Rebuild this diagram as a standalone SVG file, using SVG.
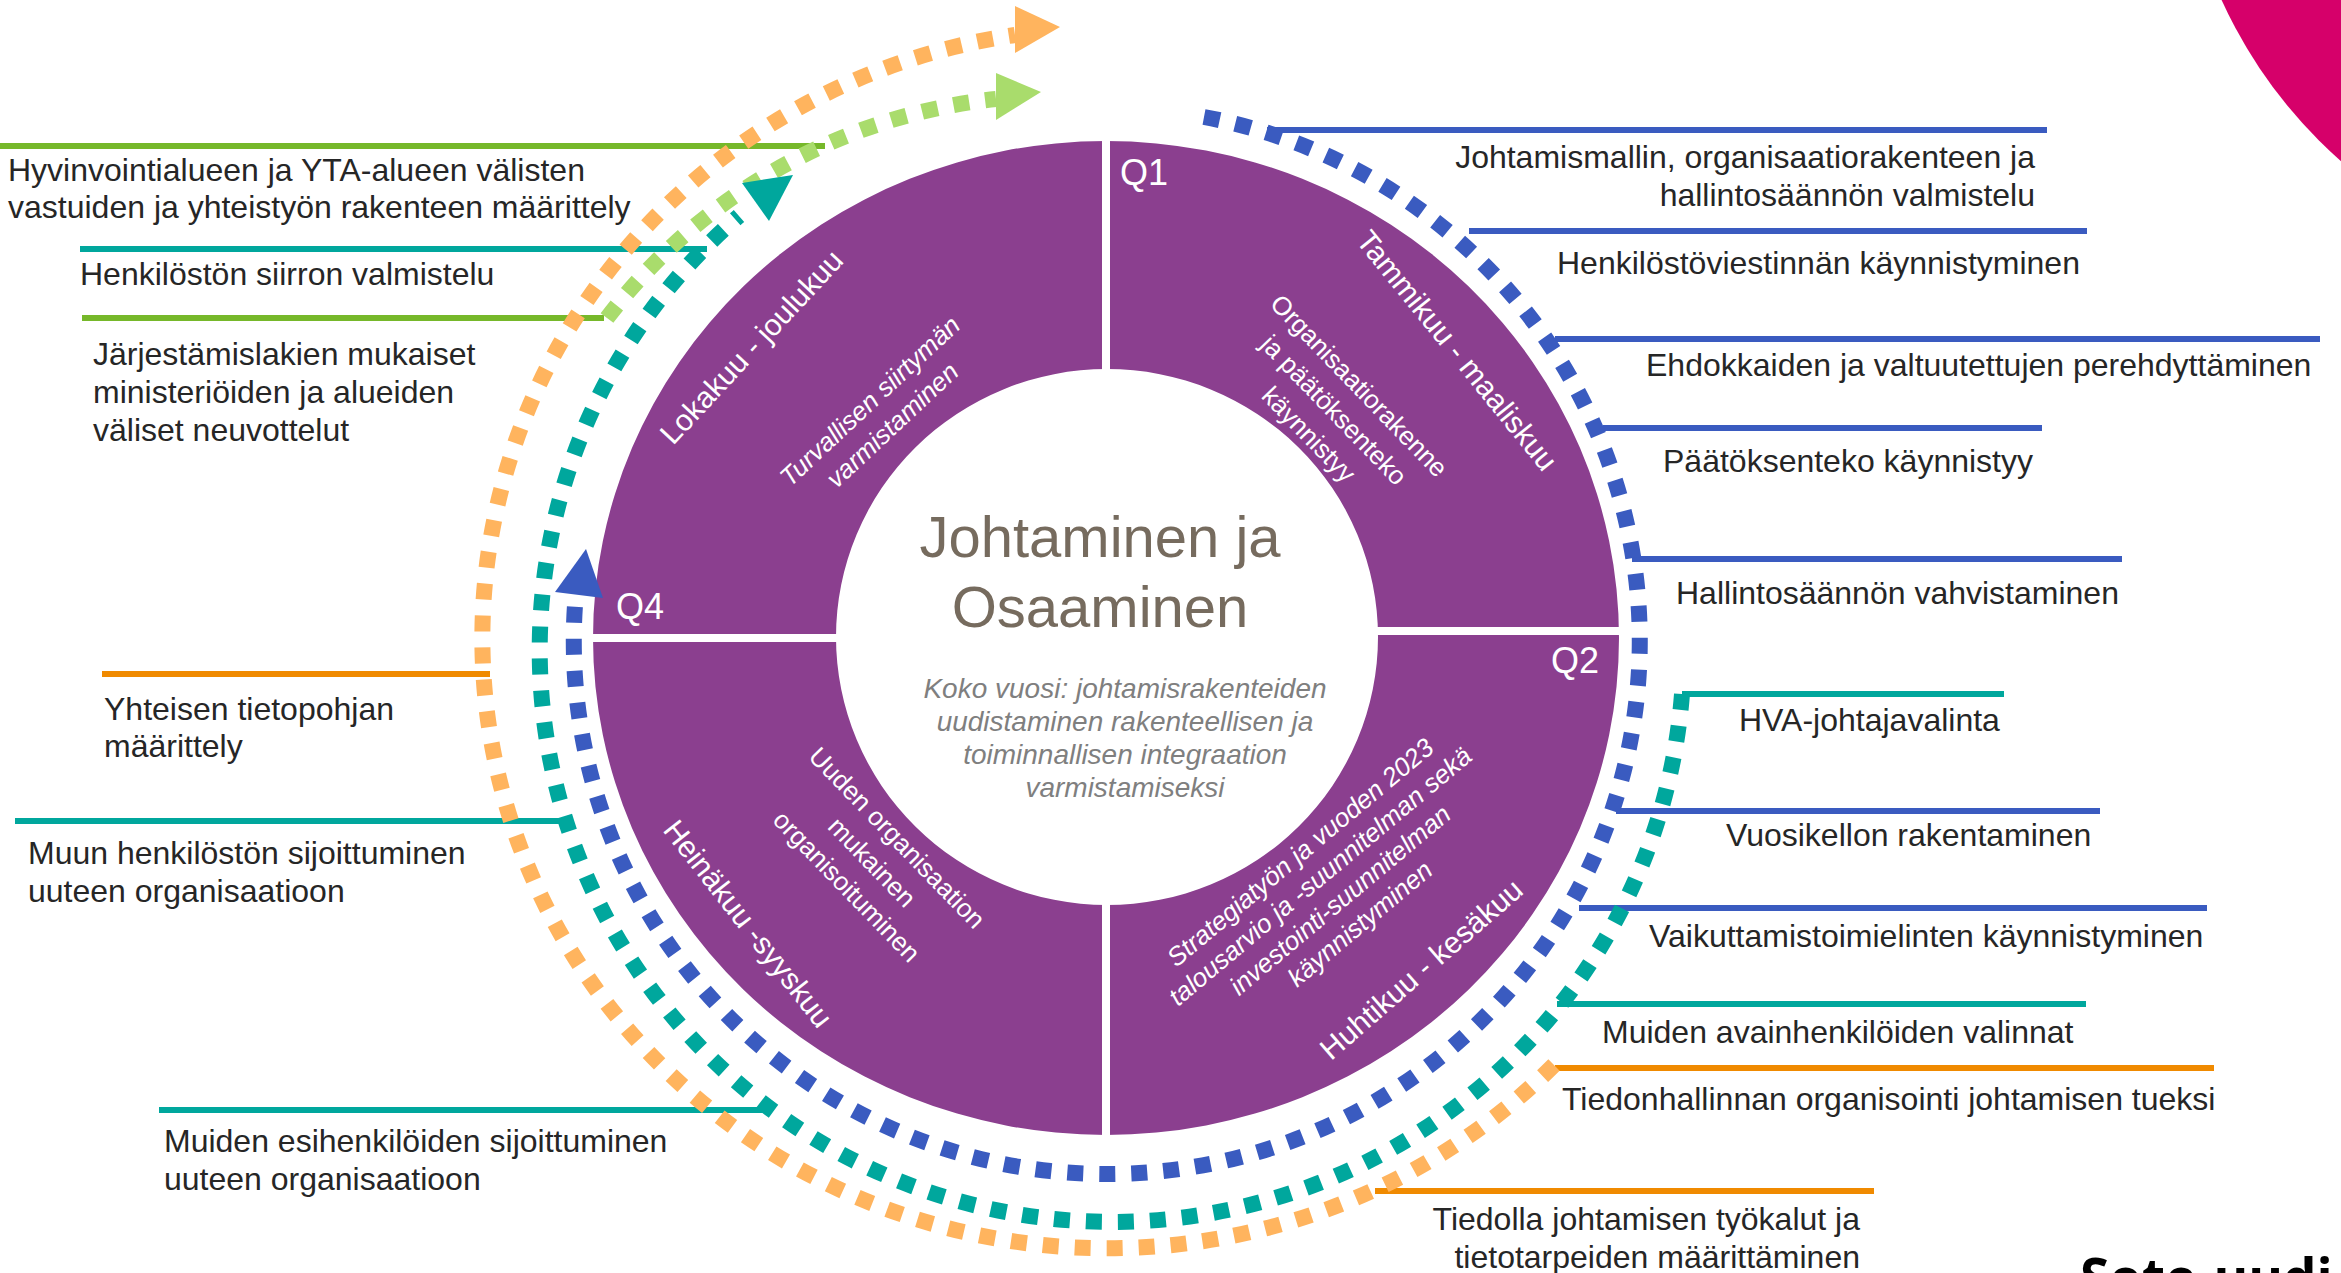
<svg xmlns="http://www.w3.org/2000/svg" width="2341" height="1273" viewBox="0 0 2341 1273">
<style>
.lbl{font-family:"Liberation Sans",Arial,sans-serif;font-size:32px;fill:#262626}
.r{text-anchor:end}
.q{font-family:"Liberation Sans",Arial,sans-serif;font-size:36px;fill:#fff}
.mon{font-family:"Liberation Sans",Arial,sans-serif;font-size:30px;fill:#fff;text-anchor:middle}
.inn{font-family:"Liberation Sans",Arial,sans-serif;font-size:26px;fill:#fff;text-anchor:middle}
.it{font-style:italic}
.ttl{font-family:"Liberation Sans",Arial,sans-serif;font-size:58px;fill:#766B5E;text-anchor:middle}
.sub{font-family:"Liberation Sans",Arial,sans-serif;font-size:28px;fill:#7F7F7F;font-style:italic;text-anchor:middle}
.ln{fill:none;stroke-width:6}
.dash{fill:none;stroke-width:16;stroke-dasharray:16 16}
.g{stroke:#76B82A}.t{stroke:#00A79D}.b{stroke:#3A5BC0}.o{stroke:#F08A00}
.lo{stroke:#FFB45E}.lg{stroke:#A9DC6C}
</style>
<rect width="2341" height="1273" fill="#fff"/>
<g id="deco">
<circle cx="2656" cy="-197" r="477" fill="#D6006A"/>
<text x="2080" y="1297" font-family="'Open Sans','Liberation Sans',sans-serif" font-weight="700" font-size="53" fill="#000">Sote-uudi</text>
</g>
<g id="ring">
<path d="M593,638 A513,497 0 1 0 1619,638 A513,497 0 1 0 593,638 Z M836,637 A271,268 0 1 0 1378,637 A271,268 0 1 0 836,637 Z" fill="#8B3F8F" fill-rule="evenodd"/>
<rect x="1102" y="130" width="8" height="1020" fill="#fff"/>
<rect x="588" y="634" width="258" height="8" fill="#fff"/>
<rect x="1370" y="627" width="256" height="8" fill="#fff"/>
</g>
<g id="connectors">
<line class="ln g" x1="0" y1="146" x2="825" y2="146"/>
<line class="ln t" x1="80" y1="249" x2="707" y2="249"/>
<line class="ln g" x1="82" y1="318" x2="604" y2="318"/>
<line class="ln o" x1="102" y1="674" x2="490" y2="674"/>
<line class="ln t" x1="15" y1="821" x2="567" y2="821"/>
<line class="ln t" x1="159" y1="1110" x2="769" y2="1110"/>
<line class="ln b" x1="1267" y1="130" x2="2047" y2="130"/>
<line class="ln b" x1="1469" y1="231" x2="2087" y2="231"/>
<line class="ln b" x1="1555" y1="339" x2="2320" y2="339"/>
<line class="ln b" x1="1603" y1="428" x2="2042" y2="428"/>
<line class="ln b" x1="1632" y1="559" x2="2122" y2="559"/>
<line class="ln t" x1="1682" y1="694" x2="2004" y2="694"/>
<line class="ln b" x1="1616" y1="811" x2="2100" y2="811"/>
<line class="ln b" x1="1579" y1="908" x2="2207" y2="908"/>
<line class="ln t" x1="1557" y1="1004" x2="2086" y2="1004"/>
<line class="ln o" x1="1555" y1="1068" x2="2214" y2="1068"/>
<line class="ln o" x1="1375" y1="1191" x2="1874" y2="1191"/>
<path class="dash lo" d="M1554,1065 A625,610 0 1 1 1015,35"/>
<polygon points="1015,6 1015,53 1060,27" fill="#FFB45E"/>
<path class="dash lg" d="M607,318 A562,562 0 0 1 996,99"/>
<polygon points="996,73 996,120 1041,92" fill="#A9DC6C"/>
<path class="dash t" d="M1682,694 A572,572 0 1 1 739,216"/>
<polygon points="742,183 793,175 769,221" fill="#00A79D"/>
<path class="dash b" d="M1204,117 A533,533 0 1 1 575,605"/>
<polygon points="586,549 555,592 603,598" fill="#3A5BC0"/>
</g>
<g id="center">
<text class="ttl" x="1100" y="557">Johtaminen ja</text>
<text class="ttl" x="1100" y="627">Osaaminen</text>
<text class="sub" x="1125" y="698">Koko vuosi: johtamisrakenteiden</text>
<text class="sub" x="1125" y="731">uudistaminen rakenteellisen ja</text>
<text class="sub" x="1125" y="764">toiminnallisen integraation</text>
<text class="sub" x="1125" y="797">varmistamiseksi</text>
</g>
<g id="q1">
<text class="q" x="1120" y="185">Q1</text>
<text class="mon" transform="translate(1449,357) rotate(51)">Tammikuu - maaliskuu</text>
<g transform="translate(1334,410) rotate(46)"><text class="inn" y="-26">Organisaatiorakenne</text><text class="inn" y="9">ja päätöksenteko</text><text class="inn" y="44">käynnistyy</text></g>
</g>
<g id="q2">
<text class="q" x="1551" y="673">Q2</text>
<text class="mon" transform="translate(1428,977) rotate(-41)">Huhtikuu - kesäkuu</text>
<g transform="translate(1330,888) rotate(-40)"><text class="inn it" y="-37.5">Strategiatyön ja vuoden 2023</text><text class="inn it" y="-6.5">talousarvio ja -suunnitelman sekä</text><text class="inn it" y="24.5">investointi-suunnitelman</text><text class="inn it" y="55.5">käynnistyminen</text></g>
</g>
<g id="q3">
<text class="mon" transform="translate(740,930) rotate(52)">Heinäkuu -syyskuu</text>
<g transform="translate(872,862) rotate(46)"><text class="inn" y="-26">Uuden organisaation</text><text class="inn" y="9">mukainen</text><text class="inn" y="44">organisoituminen</text></g>
</g>
<g id="q4">
<text class="q" x="616" y="619">Q4</text>
<text class="mon" transform="translate(759,354) rotate(-47)">Lokakuu - joulukuu</text>
<g transform="translate(881,413) rotate(-43)"><text class="inn it" y="-7.5">Turvallisen siirtymän</text><text class="inn it" y="25.5">varmistaminen</text></g>
</g>
<g id="lbl-hyvinvointi"><text class="lbl" x="8" y="181">Hyvinvointialueen ja YTA-alueen välisten</text><text class="lbl" x="8" y="218">vastuiden ja yhteistyön rakenteen määrittely</text></g>
<g id="lbl-siirto"><text class="lbl" x="80" y="285">Henkilöstön siirron valmistelu</text></g>
<g id="lbl-jarjestamislakien"><text class="lbl" x="93" y="365">Järjestämislakien mukaiset</text><text class="lbl" x="93" y="403">ministeriöiden ja alueiden</text><text class="lbl" x="93" y="441">väliset neuvottelut</text></g>
<g id="lbl-tietopohja"><text class="lbl" x="104" y="720">Yhteisen tietopohjan</text><text class="lbl" x="104" y="757">määrittely</text></g>
<g id="lbl-muun"><text class="lbl" x="28" y="864">Muun henkilöstön sijoittuminen</text><text class="lbl" x="28" y="902">uuteen organisaatioon</text></g>
<g id="lbl-esihenkilot"><text class="lbl" x="164" y="1152">Muiden esihenkilöiden sijoittuminen</text><text class="lbl" x="164" y="1190">uuteen organisaatioon</text></g>
<g id="lbl-johtamismalli"><text class="lbl r" x="2035" y="168">Johtamismallin, organisaatiorakenteen ja</text><text class="lbl r" x="2035" y="206">hallintosäännön valmistelu</text></g>
<g id="lbl-viestinta"><text class="lbl" x="1557" y="274">Henkilöstöviestinnän käynnistyminen</text></g>
<g id="lbl-ehdokkaat"><text class="lbl" x="1646" y="376">Ehdokkaiden ja valtuutettujen perehdyttäminen</text></g>
<g id="lbl-paatoksenteko"><text class="lbl" x="1663" y="472">Päätöksenteko käynnistyy</text></g>
<g id="lbl-hallintosaanto"><text class="lbl" x="1676" y="604">Hallintosäännön vahvistaminen</text></g>
<g id="lbl-hva"><text class="lbl" x="1739" y="731">HVA-johtajavalinta</text></g>
<g id="lbl-vuosikello"><text class="lbl" x="1726" y="846">Vuosikellon rakentaminen</text></g>
<g id="lbl-vaikuttamis"><text class="lbl" x="1649" y="947">Vaikuttamistoimielinten käynnistyminen</text></g>
<g id="lbl-avainhenkilot"><text class="lbl" x="1602" y="1043">Muiden avainhenkilöiden valinnat</text></g>
<g id="lbl-tiedonhallinta"><text class="lbl" x="1562" y="1110">Tiedonhallinnan organisointi johtamisen tueksi</text></g>
<g id="lbl-tiedolla"><text class="lbl r" x="1860" y="1230">Tiedolla johtamisen työkalut ja</text><text class="lbl r" x="1860" y="1268">tietotarpeiden määrittäminen</text></g>
</svg>
